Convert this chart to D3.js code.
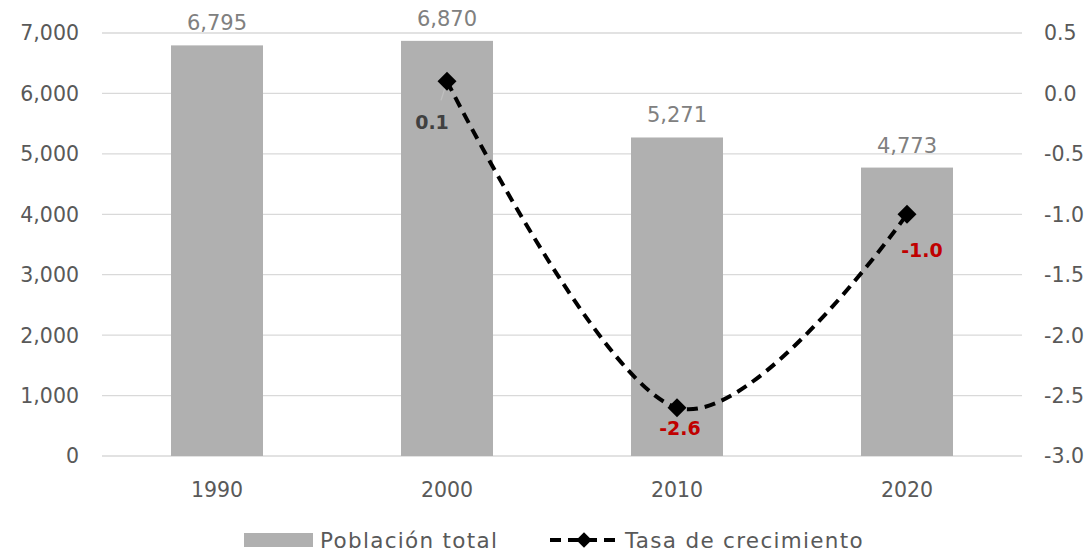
<!DOCTYPE html>
<html>
<head>
<meta charset="utf-8">
<script src="https://cdn.jsdelivr.net/npm/d3@7"></script>
<style>
  html, body { margin: 0; padding: 0; background: #fff; }
  svg { display: block; font-family: "DejaVu Sans", "Noto Sans", sans-serif; }
</style>
</head>
<body>
<svg id="chart" width="1091" height="554"></svg>
<script>
// Census years and values
const years = ["1990", "2000", "2010", "2020"];
const population = [6795, 6870, 5271, 4773];
const growthRate = [null, 0.1, -2.6, -1.0];
const leftTicks = [0, 1000, 2000, 3000, 4000, 5000, 6000, 7000];
const rightTicks = [-3.0, -2.5, -2.0, -1.5, -1.0, -0.5, 0.0, 0.5];
const seriesNames = ["Población total", "Tasa de crecimiento"];

const svg = d3.select("#chart");
const plot = { left: 102, right: 1022, top: 33, bottom: 456 };

const x = d3.scaleBand().domain(years).range([plot.left, plot.right]).paddingInner(0.6).paddingOuter(0.3);
const yL = d3.scaleLinear().domain([0, 7000]).range([plot.bottom, plot.top]);
const yR = d3.scaleLinear().domain([-3.0, 0.5]).range([plot.bottom, plot.top]);

// plain hyphen for negatives
const locale = d3.formatLocale({ decimal: ".", thousands: ",", grouping: [3], currency: ["", ""], minus: "-" });
const fmtInt = locale.format(",");
const fmtDec = locale.format(".1f");

const textGray = "#595959";
const fs = 20.5;

// horizontal gridlines
svg.append("g").selectAll("line").data(leftTicks).join("line")
  .attr("x1", plot.left).attr("x2", plot.right)
  .attr("y1", d => yL(d)).attr("y2", d => yL(d))
  .attr("stroke", "#d9d9d9").attr("stroke-width", 1.3);

// left axis labels
svg.append("g").selectAll("text").data(leftTicks).join("text")
  .attr("x", 79).attr("y", d => yL(d)).attr("dy", "0.36em")
  .attr("text-anchor", "end").attr("font-size", fs).attr("fill", textGray)
  .text(d => fmtInt(d));

// right axis labels
svg.append("g").selectAll("text").data(rightTicks).join("text")
  .attr("x", 1044).attr("y", d => yR(d)).attr("dy", "0.36em")
  .attr("text-anchor", "start").attr("font-size", fs).attr("fill", textGray)
  .text(d => fmtDec(d));

// category labels
svg.append("g").selectAll("text").data(years).join("text")
  .attr("x", d => x(d) + x.bandwidth() / 2).attr("y", 497)
  .attr("text-anchor", "middle").attr("font-size", fs).attr("fill", textGray)
  .text(d => d);

// bars
const barData = years.map((y, i) => ({ year: y, value: population[i] }));
svg.append("g").selectAll("rect").data(barData).join("rect")
  .attr("x", d => x(d.year)).attr("width", x.bandwidth())
  .attr("y", d => yL(d.value)).attr("height", d => yL(0) - yL(d.value))
  .attr("fill", "#b0b0b0");

// bar value labels
svg.append("g").selectAll("text").data(barData).join("text")
  .attr("x", d => x(d.year) + x.bandwidth() / 2).attr("y", d => yL(d.value) - 15)
  .attr("text-anchor", "middle").attr("font-size", 21).attr("fill", "#808080")
  .text(d => fmtInt(d.value));

// growth rate line
const lineData = years.map((y, i) => ({ year: y, value: growthRate[i] })).filter(d => d.value !== null);
const cx = d => x(d.year) + x.bandwidth() / 2;
const line = d3.line().x(cx).y(d => yR(d.value)).curve(d3.curveCardinal.tension(0));

// leader lines and label offsets for the line labels
const labelOffsets = [
  { dx: -15, dy: 48, lx: -6, ly: 19, color: "#404040" },
  { dx: 3, dy: 27, lx: 0, ly: 0, color: "#c00000" },
  { dx: 15, dy: 43, lx: 12, ly: 12, color: "#c00000" }
];
svg.append("g").selectAll("line").data(lineData).join("line")
  .filter((d, i) => labelOffsets[i].lx !== 0)
  .attr("x1", d => cx(d)).attr("y1", d => yR(d.value))
  .attr("x2", (d, i) => cx(d) + labelOffsets[i].lx)
  .attr("y2", (d, i) => yR(d.value) + labelOffsets[i].ly)
  .attr("stroke", "#bfbfbf").attr("stroke-width", 1.3);

svg.append("path").datum(lineData)
  .attr("d", line).attr("fill", "none")
  .attr("stroke", "#000").attr("stroke-width", 4)
  .attr("stroke-dasharray", "11,7");

svg.append("g").selectAll("path").data(lineData).join("path")
  .attr("d", d3.symbol().type(d3.symbolSquare).size(180))
  .attr("transform", d => `translate(${cx(d)},${yR(d.value)}) rotate(45)`)
  .attr("fill", "#000");

// line value labels
svg.append("g").selectAll("text").data(lineData).join("text")
  .attr("x", (d, i) => cx(d) + labelOffsets[i].dx)
  .attr("y", (d, i) => yR(d.value) + labelOffsets[i].dy)
  .attr("text-anchor", "middle").attr("font-size", 19).attr("font-weight", "bold")
  .attr("fill", (d, i) => labelOffsets[i].color)
  .text(d => fmtDec(d.value));

// legend
const lg = svg.append("g");
lg.append("rect").attr("x", 244).attr("y", 533).attr("width", 69).attr("height", 14).attr("fill", "#b0b0b0");
lg.append("text").attr("x", 320).attr("y", 548).attr("font-size", 21.5).attr("letter-spacing", 1.3)
  .attr("fill", textGray).text(seriesNames[0]);
lg.append("line").attr("x1", 549).attr("x2", 619).attr("y1", 540).attr("y2", 540)
  .attr("stroke", "#000").attr("stroke-width", 4).attr("stroke-dasharray", "11,7").attr("stroke-dashoffset", -1);
lg.append("path").attr("d", d3.symbol().type(d3.symbolSquare).size(120))
  .attr("transform", "translate(584,540) rotate(45)").attr("fill", "#000");
lg.append("text").attr("x", 625).attr("y", 548).attr("font-size", 21.5).attr("letter-spacing", 1.3)
  .attr("fill", textGray).text(seriesNames[1]);
</script>
</body>
</html>
